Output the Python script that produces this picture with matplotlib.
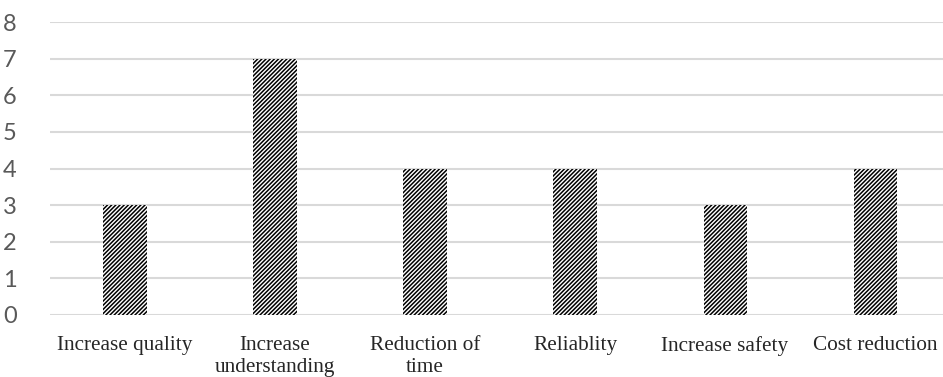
import matplotlib
matplotlib.use("Agg")
from matplotlib import pyplot as plt

categories = ["Increase quality", "Increase\nunderstanding", "Reduction of\ntime",
              "Reliablity", "Increase safety", "Cost reduction"]
counts = [3, 7, 4, 4, 3, 4]
y_ticks = [0, 1, 2, 3, 4, 5, 6, 7, 8]

plt.rcParams['hatch.linewidth'] = 1.1
plt.rcParams['hatch.color'] = 'black'

fig = plt.figure(figsize=(9.43, 3.77), dpi=100)
ax = fig.add_axes([0.053, 0.1645, 0.947, 0.777])

x = list(range(len(categories)))
ax.bar(x, counts, width=0.287, color='white', edgecolor='black', linewidth=0,
       hatch='////////', zorder=3)

ax.set_ylim(0, 8)
ax.set_xlim(-0.5, 5.453)
ax.set_yticks(y_ticks)
ax.set_xticks(x)
ax.set_xticklabels(categories, fontfamily='Liberation Serif', fontsize=15.3,
                   color='#262626', linespacing=1.25)
for lbl in ax.get_yticklabels():
    lbl.set_fontfamily('Lato')
    lbl.set_fontsize(17)
    lbl.set_color('#595959')

ax.grid(axis='y', color='#d9d9d9', linewidth=1.5, zorder=0)
for s in ax.spines.values():
    s.set_visible(False)
ax.tick_params(length=0)
ax.tick_params(axis='x', pad=15)
ax.tick_params(axis='y', pad=24)

fig.savefig("out.png", dpi=100)
